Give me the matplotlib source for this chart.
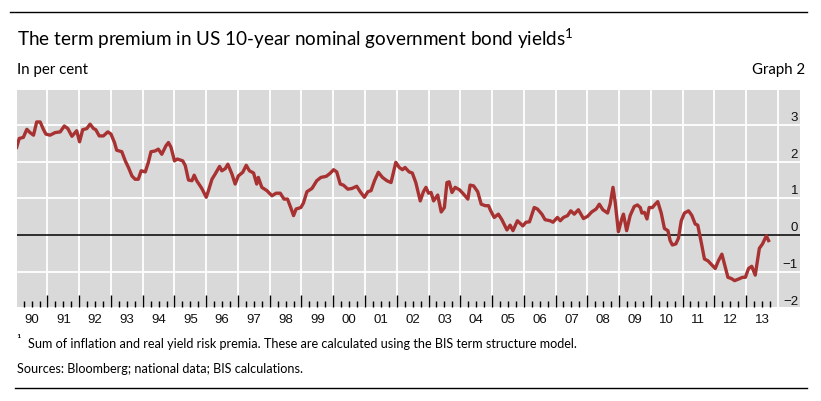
import matplotlib.pyplot as plt
from matplotlib import transforms
from matplotlib.lines import Line2D

# decimal year, term premium (per cent)
years = [
    1990.03, 1990.11, 1990.24, 1990.35, 1990.45, 1990.56, 1990.66, 1990.77, 1990.87, 1990.95,
    1991.08, 1991.24, 1991.40, 1991.53, 1991.64, 1991.77, 1991.92, 1992.01, 1992.11, 1992.24,
    1992.34, 1992.45, 1992.52, 1992.63, 1992.76, 1992.90, 1993.00, 1993.11, 1993.18, 1993.34,
    1993.45, 1993.55, 1993.66, 1993.76, 1993.86, 1993.95, 1994.08, 1994.18, 1994.26, 1994.39,
    1994.49, 1994.60, 1994.73, 1994.81, 1994.89, 1995.00, 1995.09, 1995.26, 1995.34, 1995.44,
    1995.55, 1995.62, 1995.70, 1995.86, 1996.00, 1996.07, 1996.18, 1996.28, 1996.42, 1996.49,
    1996.60, 1996.68, 1996.81, 1996.91, 1997.01, 1997.15, 1997.26, 1997.36, 1997.49, 1997.59,
    1997.64, 1997.75, 1997.91, 1998.07, 1998.20, 1998.33, 1998.45, 1998.56, 1998.66, 1998.75,
    1998.83, 1998.98, 1999.06, 1999.17, 1999.33, 1999.48, 1999.61, 1999.78, 1999.90, 2000.01,
    2000.11, 2000.22, 2000.32, 2000.46, 2000.59, 2000.74, 2000.85, 2000.98, 2001.09, 2001.19,
    2001.30, 2001.42, 2001.55, 2001.69, 2001.82, 2001.97, 2002.08, 2002.18, 2002.26, 2002.39,
    2002.49, 2002.60, 2002.74, 2002.84, 2002.92, 2003.00, 2003.08, 2003.16, 2003.29, 2003.40,
    2003.50, 2003.58, 2003.65, 2003.74, 2003.84, 2003.98, 2004.10, 2004.24, 2004.31, 2004.42,
    2004.55, 2004.66, 2004.79, 2004.89, 2004.96, 2005.07, 2005.20, 2005.31, 2005.47, 2005.57,
    2005.66, 2005.80, 2005.97, 2006.07, 2006.18, 2006.33, 2006.43, 2006.57, 2006.67, 2006.83,
    2006.92, 2007.06, 2007.15, 2007.25, 2007.38, 2007.48, 2007.59, 2007.72, 2007.88, 2008.01,
    2008.14, 2008.28, 2008.38, 2008.49, 2008.64, 2008.72, 2008.81, 2008.88, 2008.98, 2009.09,
    2009.14, 2009.24, 2009.35, 2009.48, 2009.58, 2009.67, 2009.72, 2009.80, 2009.88, 2009.95,
    2010.05, 2010.14, 2010.22, 2010.33, 2010.43, 2010.54, 2010.61, 2010.68, 2010.79, 2010.87,
    2010.96, 2011.06, 2011.19, 2011.29, 2011.40, 2011.48, 2011.59, 2011.69, 2011.80, 2011.90,
    2012.03, 2012.13, 2012.24, 2012.32, 2012.43, 2012.53, 2012.64, 2012.76, 2012.89, 2012.98,
    2013.08, 2013.18, 2013.29, 2013.42, 2013.52, 2013.64, 2013.71,
]
premium = [
    2.39, 2.63, 2.66, 2.88, 2.79, 2.72, 3.08, 3.08, 2.88, 2.75,
    2.72, 2.79, 2.81, 2.97, 2.90, 2.69, 2.84, 2.54, 2.87, 2.90,
    3.02, 2.90, 2.87, 2.70, 2.70, 2.81, 2.75, 2.52, 2.31, 2.27,
    2.02, 1.84, 1.61, 1.52, 1.52, 1.75, 1.72, 1.99, 2.27, 2.29,
    2.34, 2.20, 2.43, 2.52, 2.39, 2.02, 2.07, 2.02, 1.89, 1.50,
    1.48, 1.63, 1.48, 1.27, 1.03, 1.21, 1.52, 1.66, 1.87, 1.75,
    1.81, 1.93, 1.66, 1.39, 1.61, 1.71, 1.90, 1.75, 1.69, 1.39,
    1.57, 1.30, 1.21, 1.07, 1.14, 1.14, 0.98, 0.98, 0.75, 0.53,
    0.71, 0.75, 0.87, 1.18, 1.27, 1.48, 1.57, 1.60, 1.68, 1.78,
    1.72, 1.39, 1.36, 1.25, 1.27, 1.33, 1.18, 1.03, 1.18, 1.21,
    1.48, 1.71, 1.57, 1.48, 1.43, 1.98, 1.84, 1.78, 1.84, 1.72,
    1.69, 1.43, 0.93, 1.18, 1.30, 1.14, 1.16, 0.93, 1.09, 0.63,
    0.75, 1.43, 1.45, 1.16, 1.30, 1.23, 1.12, 0.98, 1.36, 1.34,
    1.18, 0.84, 0.80, 0.80, 0.66, 0.48, 0.57, 0.42, 0.14, 0.27,
    0.12, 0.39, 0.25, 0.35, 0.36, 0.75, 0.71, 0.57, 0.42, 0.39,
    0.35, 0.48, 0.39, 0.48, 0.53, 0.66, 0.57, 0.69, 0.45, 0.51,
    0.63, 0.71, 0.84, 0.69, 0.60, 0.84, 1.30, 0.89, 0.09, 0.45,
    0.57, 0.12, 0.53, 0.78, 0.82, 0.75, 0.60, 0.62, 0.44, 0.75,
    0.75, 0.84, 0.91, 0.60, 0.18, 0.12, -0.15, -0.27, -0.24, -0.09,
    0.39, 0.60, 0.66, 0.54, 0.30, 0.27, -0.20, -0.65, -0.70, -0.79,
    -0.91, -0.70, -0.52, -0.79, -1.15, -1.18, -1.24, -1.20, -1.15, -1.15,
    -0.91, -0.85, -1.09, -0.36, -0.24, -0.02, -0.15,
]

label_years = list(range(1990, 2014))
year_labels = [f"{y % 100:02d}" for y in label_years]
y_ticks = [3, 2, 1, 0, -1, -2]
y_tick_labels = ["3", "2", "1", "0", "\u22121", "\u22122"]

title = "The term premium in US 10-year nominal government bond yields$^{1}$"
footnote = "Sum of inflation and real yield risk premia. These are calculated using the BIS term structure model."
sources = "Sources: Bloomberg; national data; BIS calculations."

W, H = 821, 402
LINE_RED = "#a83232"
BG = "#d9d9d9"
TXT = "Lato"

plt.rcParams["mathtext.fontset"] = "custom"
plt.rcParams["mathtext.rm"] = TXT
plt.rcParams["mathtext.it"] = TXT

fig = plt.figure(figsize=(W / 100, H / 100), dpi=100)


def fx(px):
    return px / W


def fy(py):
    return 1 - py / H


ax = fig.add_axes([fx(17), fy(307.7), fx(800) - fx(17), fy(91) - fy(307.7)])
ax.set_facecolor(BG)
for s in ax.spines.values():
    s.set_visible(False)

ax.set_xlim(1990.04, 2014.7)
ax.set_ylim(-1.95, 3.95)

# white grid
for yr in range(1991, 2015):
    ax.axvline(yr, color="white", lw=1.3, zorder=1)
for v in [3, 2, 1, -1]:
    ax.axhline(v, color="white", lw=1.3, zorder=1)
ax.axhline(0, color="black", lw=1.1, zorder=2)

ax.plot(years, premium, color=LINE_RED, lw=2.4, solid_joinstyle="round", zorder=3)

# ticks at year boundaries (major) and quarters (minor), pointing up
ax.set_xticks(list(range(1991, 2014)))
ax.set_xticks([y + q for y in range(1990, 2014) for q in (0.25, 0.5, 0.75)], minor=True)
ax.tick_params(axis="x", which="major", direction="in", length=9, width=1, color="black",
               labelbottom=False)
ax.tick_params(axis="x", which="minor", direction="in", length=4.5, width=1, color="black")
ax.set_yticks([])

bx = transforms.blended_transform_factory(ax.transData, ax.transAxes)
for yr, lab in zip(label_years, year_labels):
    ax.text(yr + 0.5, -0.055, lab, transform=bx, ha="center", va="center",
            fontsize=9.5, family="Liberation Sans", color="#111111")

by = transforms.blended_transform_factory(ax.transAxes, ax.transData)
by = transforms.offset_copy(by, fig=fig, x=0, y=8, units="dots")
for v, lab in zip(y_ticks, y_tick_labels):
    ax.text(0.9975, v, lab, transform=by, ha="right", va="center",
            fontsize=9.5, family="Liberation Sans", color="#111111", zorder=4)

# header and footer
fig.add_artist(Line2D([fx(10), fx(807)], [fy(12.5), fy(12.5)], color="black", lw=1))
fig.add_artist(Line2D([fx(15), fx(807)], [fy(389), fy(389)], color="black", lw=1))
fig.text(fx(17), fy(39), title, fontsize=13.6, family=TXT, va="center", ha="left")
fig.text(fx(17), fy(70), "In per cent", fontsize=10.8, family=TXT, va="center", ha="left")
fig.text(fx(805), fy(70), "Graph 2", fontsize=10.8, family=TXT, va="center", ha="right")
fig.text(fx(16), fy(340), "\u00b9", fontsize=9.5, family=TXT, va="center", ha="left")
fig.text(fx(28), fy(344), footnote, fontsize=9.1, family=TXT, va="center", ha="left")
fig.text(fx(17), fy(369), sources, fontsize=9.1, family=TXT, va="center", ha="left")

fig.savefig("out.png", dpi=100)
